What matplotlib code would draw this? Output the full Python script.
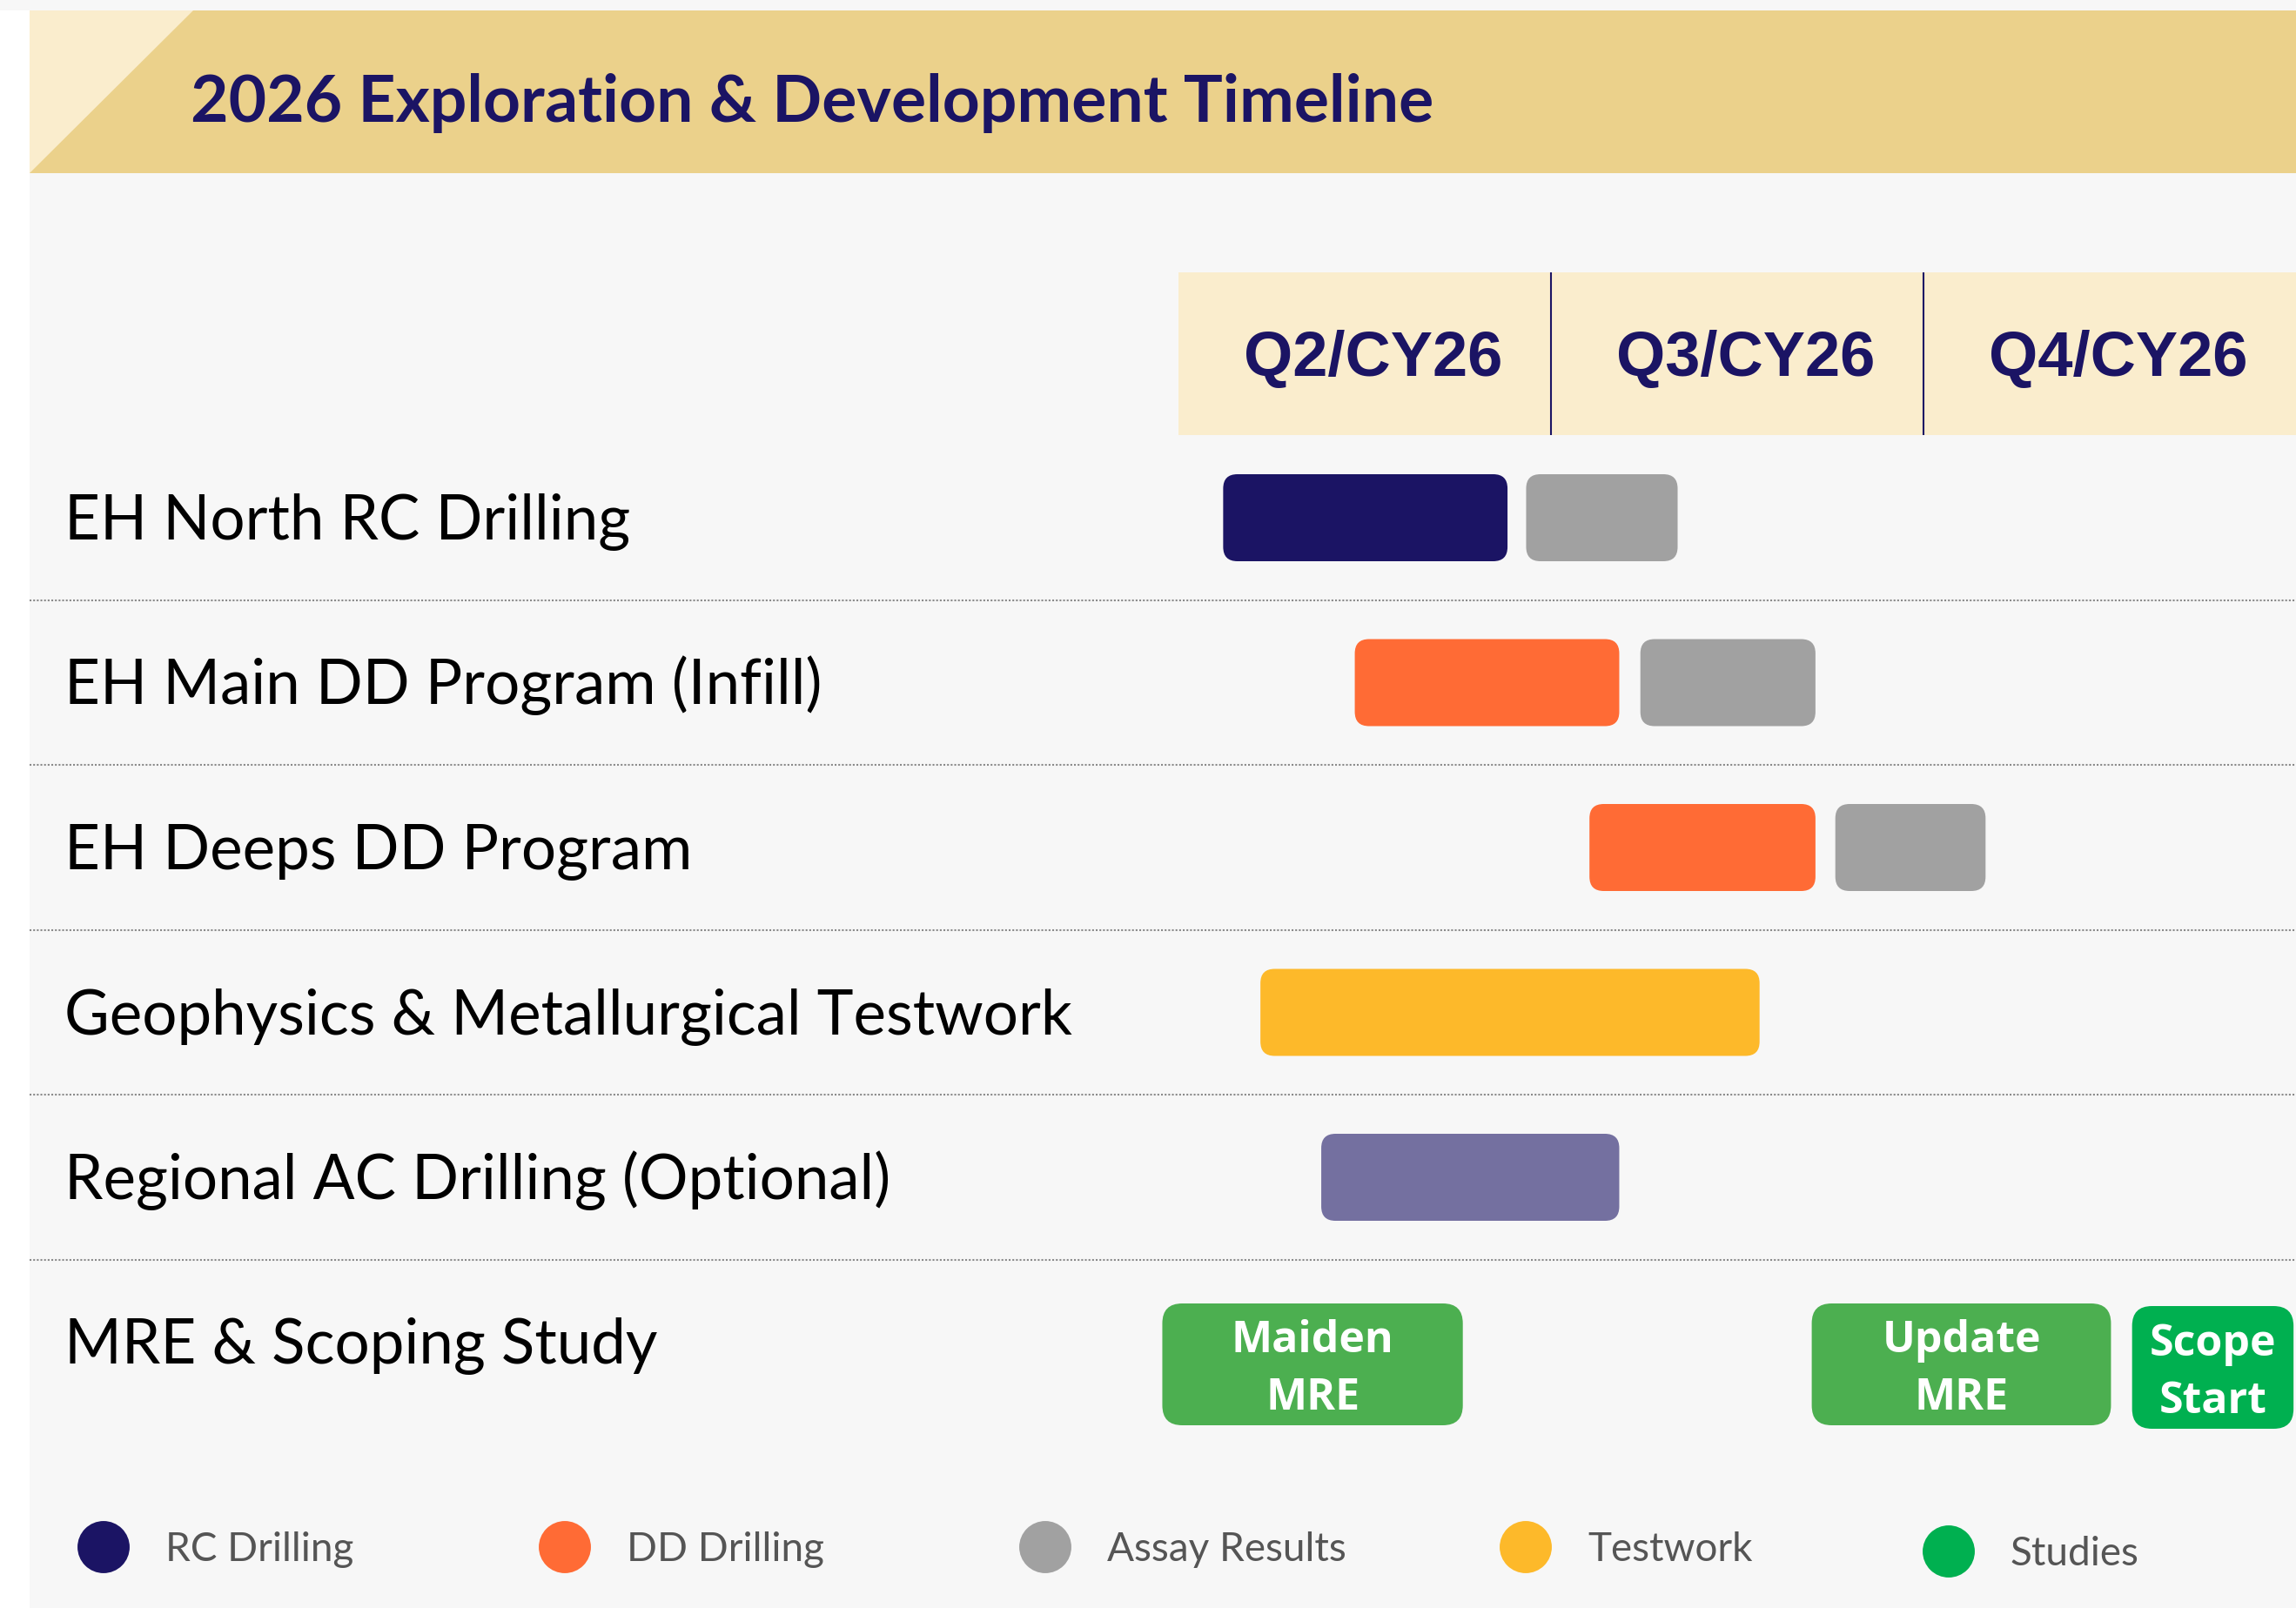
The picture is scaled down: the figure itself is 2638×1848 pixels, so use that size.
import matplotlib
matplotlib.use("Agg")
import matplotlib.pyplot as plt
from matplotlib.patches import FancyBboxPatch, Rectangle, Polygon

# ---- data ----
rows = [
    "EH North RC Drilling",
    "EH Main DD Program (Infill)",
    "EH Deeps DD Program",
    "Geophysics & Metallurgical Testwork",
    "Regional AC Drilling (Optional)",
    "MRE & Scoping Study",
]
quarters = ["Q2/CY26", "Q3/CY26", "Q4/CY26"]
quarter_starts = [3, 6, 9]  # month index, Jan = 0

# activity bars (month index, fractional)
task_row = [0, 0, 1, 1, 2, 2, 3, 4]
task_start = [3.36, 5.80, 4.42, 6.72, 6.31, 8.29, 3.66, 4.15]
task_end = [5.65, 7.02, 6.55, 8.13, 8.13, 9.50, 7.68, 6.55]
task_kind = ["RC", "Assay", "DD", "Assay", "DD", "Assay", "Testwork", "AC"]

# study milestones in the last row
milestone_labels = ["Maiden\nMRE", "Update\nMRE", "Scope\nStart"]
milestone_start = [2.87, 8.10, 10.68]
milestone_end = [5.29, 10.51, 11.98]
milestone_kind = ["MRE", "MRE", "Scope"]

legend_labels = ["RC Drilling", "DD Drilling", "Assay Results", "Testwork", "Studies"]
legend_kind = ["RC", "DD", "Assay", "Testwork", "Scope"]

colors = {
    "RC": "#1b1464",
    "DD": "#ff6b35",
    "Assay": "#a1a1a1",
    "Testwork": "#fdb92a",
    "AC": "#7470a0",
    "MRE": "#4caf50",
    "Scope": "#00b050",
}
NAVY = "#1b1464"
BG = "#f7f7f7"
BAND = "#ebd18b"
CREAM = "#faedcd"

# ---- layout (pixels) ----
W, H = 2638, 1848
PPM = (2638 - 1354) / 9.0     # pixels per month
ROW0, ROWH = 595, 189.5        # first row centre, row pitch


def fx(x):
    return x / W


def fy(y):
    return 1 - y / H


def row_of(py):
    return (py - ROW0) / ROWH


def month_of(px):
    return 3 + (px - 1354) / PPM


fig = plt.figure(figsize=(W / 100, H / 100), dpi=100, facecolor=BG)

# left white margin and title band
fig.patches.append(Rectangle((0, 0), fx(34), fy(12), transform=fig.transFigure,
                             facecolor="white", edgecolor="none", zorder=0))
fig.patches.append(Rectangle((fx(34), fy(199)), 1 - fx(34), fy(12) - fy(199),
                             transform=fig.transFigure, facecolor=BAND,
                             edgecolor="none", zorder=0))
fig.patches.append(Polygon([(fx(34), fy(12)), (fx(222), fy(12)), (fx(34), fy(199))],
                           closed=True, transform=fig.transFigure,
                           facecolor=CREAM, edgecolor="none", zorder=1))
fig.text(fx(219), fy(140), "2026 Exploration & Development Timeline",
         fontfamily="Lato", fontweight="bold", fontsize=54, color=NAVY,
         ha="left", va="baseline")

ax = fig.add_axes([fx(34), 0, 1 - fx(34), fy(200)])
ax.set_xlim(month_of(34), 12)
ax.set_ylim(row_of(1848), row_of(200))
ax.axis("off")
ax.patch.set_alpha(0)

# quarter header
hdr_top, hdr_bot = row_of(313), row_of(500)
ax.add_patch(Rectangle((3, hdr_top), 9, hdr_bot - hdr_top, facecolor=CREAM,
                       edgecolor="none", clip_on=False))
ax.vlines(quarter_starts[1:], hdr_top, hdr_bot, color=NAVY, lw=1.5)
for q, qs in zip(quarters, quarter_starts):
    ax.text(qs + 1.5 + 0.07, row_of(432), q, ha="center", va="baseline",
            fontfamily="Liberation Sans", fontweight="bold", fontsize=52, color=NAVY)

# row labels and separators
for i, name in enumerate(rows):
    ax.text(month_of(74), i + (620 - 595) / ROWH, name,
            ha="left", va="baseline",
            fontfamily="Lato", fontsize=51, color="black")
for i in range(len(rows) - 1):
    ax.axhline(i + 0.5, color="#8a8a8a", lw=1.5, ls=(0, (1, 1)))

aspect = PPM / ROWH
bar_h = 100 / ROWH
for r, s, e, k in zip(task_row, task_start, task_end, task_kind):
    ax.add_patch(FancyBboxPatch((s, r - bar_h / 2), e - s, bar_h,
                                boxstyle="round,pad=0,rounding_size=0.115",
                                mutation_aspect=aspect,
                                facecolor=colors[k], edgecolor="none"))

for lab, s, e, k in zip(milestone_labels, milestone_start, milestone_end, milestone_kind):
    if k == "Scope":
        top, bot = row_of(1501), row_of(1642)
    else:
        top, bot = row_of(1498), row_of(1638)
    ax.add_patch(FancyBboxPatch((s, top), e - s, bot - top,
                                boxstyle="round,pad=0,rounding_size=0.16",
                                mutation_aspect=aspect,
                                facecolor=colors[k], edgecolor="none", clip_on=False))
    # two lines, baselines 66 px apart
    first, second = lab.split("\n")
    mid = (top + bot) / 2
    ax.text((s + e) / 2, mid - 14 / ROWH, first, ha="center", va="baseline",
            fontfamily="Open Sans", fontweight="bold", fontsize=36, color="white")
    ax.text((s + e) / 2, mid + 52 / ROWH, second, ha="center", va="baseline",
            fontfamily="Open Sans", fontweight="bold", fontsize=36, color="white")

# legend
legend_px = [119, 649, 1201, 1753, 2239]
legend_py = [1778, 1778, 1778, 1778, 1783]
for px, py, lab, k in zip(legend_px, legend_py, legend_labels, legend_kind):
    ax.scatter([month_of(px)], [row_of(py)], s=1860, color=colors[k],
               edgecolors="none", clip_on=False)
    ax.text(month_of(px + 71), row_of(py + 16), lab, ha="left", va="baseline",
            fontfamily="Lato", fontsize=33, color="#555555")

fig.savefig("out.png", dpi=100, facecolor=BG)
